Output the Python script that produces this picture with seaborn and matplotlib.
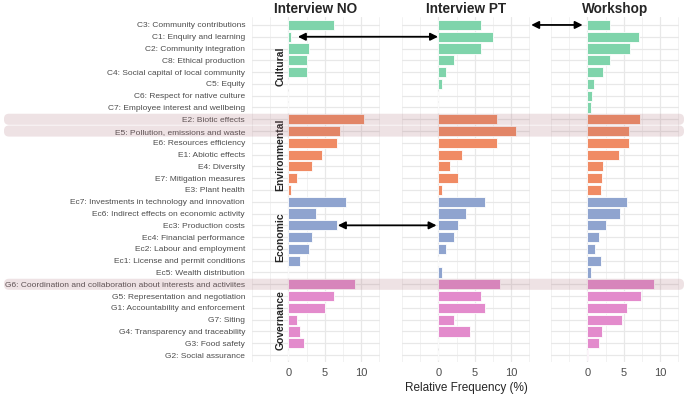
import numpy as np
import pandas as pd
import matplotlib
matplotlib.use("Agg")
import matplotlib.pyplot as plt
from matplotlib.patches import ConnectionPatch, FancyBboxPatch
import seaborn as sns

# Data (relative frequency in %)

labels = [
    "C3: Community contributions",
    "C1: Enquiry and learning",
    "C2: Community integration",
    "C8: Ethical production",
    "C4: Social capital of local community",
    "C5: Equity",
    "C6: Respect for native culture",
    "C7: Employee interest and wellbeing",
    "E2: Biotic effects",
    "E5: Pollution, emissions and waste",
    "E6: Resources efficiency",
    "E1: Abiotic effects",
    "E4: Diversity",
    "E7: Mitigation measures",
    "E3: Plant health",
    "Ec7: Investments in technology and innovation",
    "Ec6: Indirect effects on economic activity",
    "Ec3: Production costs",
    "Ec4: Financial performance",
    "Ec2: Labour and employment",
    "Ec1: License and permit conditions",
    "Ec5: Wealth distribution",
    "G6: Coordination and collaboration about interests and activiites",
    "G5: Representation and negotiation",
    "G1: Accountability and enforcement",
    "G7: Siting",
    "G4: Transparency and traceability",
    "G3: Food safety",
    "G2: Social assurance",
]
groups = ["Cultural"] * 8 + ["Environmental"] * 7 + ["Economic"] * 7 + ["Governance"] * 7

interview_no = [6.2, 0.4, 2.9, 2.5, 2.5, 0, 0, 0,
                10.4, 7.05, 6.65, 4.55, 3.3, 1.25, 0.4,
                7.9, 3.75, 6.65, 3.3, 2.9, 1.65, 0,
                9.2, 6.2, 5.0, 1.25, 1.65, 2.1, 0]
interview_pt = [5.85, 7.45, 5.85, 2.1, 1.05, 0.55, 0, 0,
                8.0, 10.7, 8.0, 3.2, 1.6, 2.65, 0.55,
                6.4, 3.75, 2.65, 2.1, 1.05, 0, 0.55,
                8.5, 5.85, 6.4, 2.1, 4.3, 0, 0]
workshop = [3.1, 7.1, 5.8, 3.05, 2.2, 0.9, 0.6, 0.55,
            7.2, 5.7, 5.7, 4.3, 2.15, 1.95, 1.85,
            5.5, 4.5, 2.6, 1.55, 1.1, 1.9, 0.55,
            9.1, 7.4, 5.5, 4.75, 2.05, 1.65, 0.15]

sources = ["Interview NO", "Interview PT", "Workshop"]
group_names = ["Cultural", "Environmental", "Economic", "Governance"]
palette = {"Cultural": "#7fd4ab", "Environmental": "#f08b64",
           "Economic": "#8fa4cf", "Governance": "#e38bcc"}

highlight_rows = ["E2: Biotic effects", "E5: Pollution, emissions and waste",
                  "G6: Coordination and collaboration about interests and activiites"]

# arrows: (panel from, value from, panel to, value to, row)
arrows = [
    (0, 1.3, 1, -0.05, "C1: Enquiry and learning"),
    (1, 12.75, 2, -0.65, "C3: Community contributions"),
    (0, 6.8, 1, -0.25, "Ec3: Production costs"),
]

df = pd.DataFrame({
    "label": labels * 3,
    "group": groups * 3,
    "value": interview_no + interview_pt + workshop,
    "source": np.repeat(sources, len(labels)),
})

sns.set_style("whitegrid")
plt.rcParams["font.family"] = ["Liberation Sans", "DejaVu Sans"]

fig = plt.figure(figsize=(6.85, 3.94), dpi=100)
lefts = [252 / 685, 402 / 685, 551 / 685]
axes = [fig.add_axes([l, 0.081, 0.187, 0.876]) for l in lefts]

for i, (ax, src) in enumerate(zip(axes, sources)):
    sub = df[df["source"] == src]
    sns.barplot(data=sub, y="label", x="value", hue="group", order=labels,
                hue_order=group_names, palette=palette, orient="h", width=0.86,
                saturation=1, edgecolor="white", linewidth=0.6, legend=False, ax=ax)
    ax.set_xlim(-5, 12.6)
    ax.set_ylim(len(labels) - 0.4, -0.68)
    ax.set_xticks([0, 5, 10])
    ax.set_xticks([-5, -2.5, 2.5, 7.5, 12.5], minor=True)
    ax.grid(True, which="major", color="#e8e8e8", linewidth=0.9)
    ax.grid(True, which="minor", axis="x", color="#f0f0f0", linewidth=0.6)
    ax.set_axisbelow(True)
    for s in ax.spines.values():
        s.set_visible(False)
    ax.tick_params(axis="x", length=0, pad=4, labelsize=8, labelcolor="#4d4d4d")
    ax.tick_params(axis="y", length=0, pad=5, labelsize=6, labelcolor="#4d4d4d")
    ax.set_title(src, fontsize=9.8, fontweight="bold", pad=3)
    ax.set_ylabel("")
    ax.set_xlabel("")
    if i > 0:
        ax.set_yticklabels([])

axes[1].set_xlabel("Relative Frequency (%)", fontsize=8.5, labelpad=3)

# group labels inside the first panel
for g in group_names:
    idx = [k for k, gg in enumerate(groups) if gg == g]
    axes[0].text(-1.1, np.mean(idx), g, rotation=90, ha="center", va="center",
                 fontsize=7.5, fontweight="bold")

# double-headed arrows across panels
for pa, xa, pb, xb, row in arrows:
    y = labels.index(row)
    con = ConnectionPatch((xa, y), (xb, y), coordsA=axes[pa].transData,
                          coordsB=axes[pb].transData, arrowstyle="<|-|>",
                          mutation_scale=11, color="black", linewidth=1.3)
    fig.add_artist(con)

# highlight bands over whole rows
fig.canvas.draw()
for row in highlight_rows:
    y = labels.index(row)
    y_top = axes[0].transData.transform((0, y - 0.47))[1] / fig.dpi
    y_bot = axes[0].transData.transform((0, y + 0.47))[1] / fig.dpi
    band = FancyBboxPatch((0.04, y_bot), 6.8, y_top - y_bot,
                          boxstyle="round,pad=0,rounding_size=0.05",
                          transform=fig.dpi_scale_trans, facecolor=(0.67, 0.43, 0.47),
                          edgecolor="none", alpha=0.2, zorder=10)
    fig.add_artist(band)

plt.savefig("out.png", dpi=100)
plt.close()
